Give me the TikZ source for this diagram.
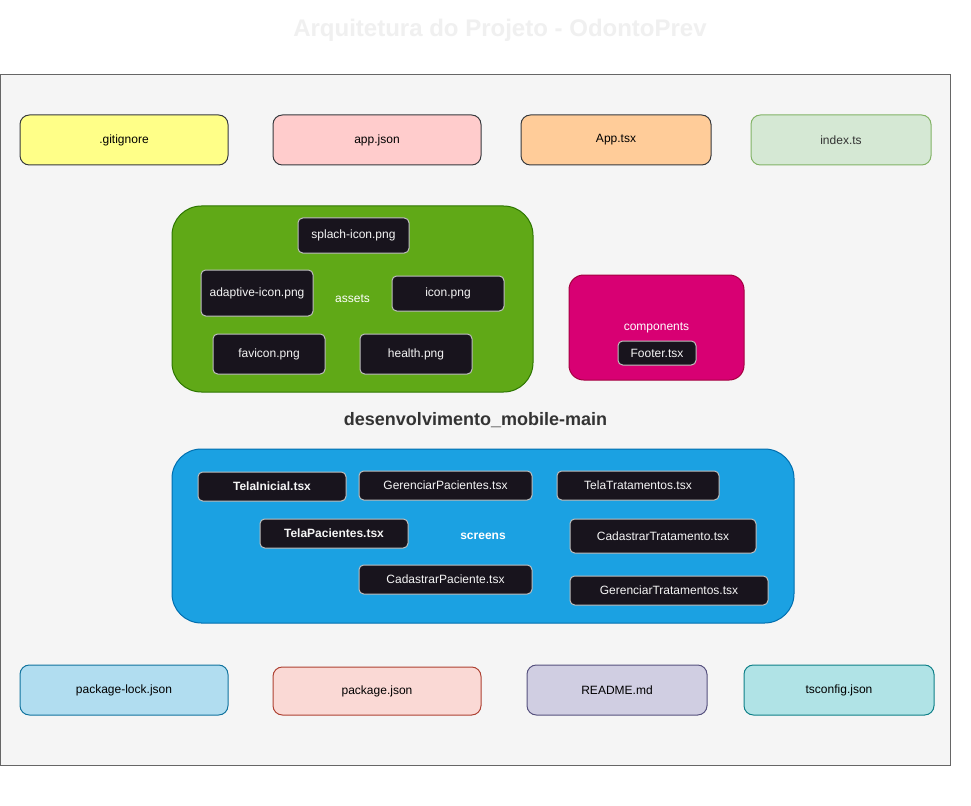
\documentclass[tikz,border=0pt]{standalone}
\usepackage{fontspec}
\setmainfont{Liberation Sans}
\begin{document}
\begin{tikzpicture}[x=0.75pt,y=-0.75pt,line width=0.75pt,
  every node/.style={inner sep=0pt,outer sep=0pt,align=center},
  filebox/.style={draw=c36,rounded corners=7pt,font=\fontsize{9pt}{11pt}\selectfont,text=black},
  darkbox/.style={draw=cbord,fill=cdark,rounded corners=3.5pt,font=\fontsize{9pt}{11pt}\selectfont,text=cwhite},
  group/.style={font=\fontsize{9pt}{11pt}\selectfont,text=white}]
\definecolor{c36}{HTML}{36393D}
\definecolor{cdark}{HTML}{18141D}
\definecolor{cbord}{HTML}{BFBFBF}
\definecolor{cwhite}{HTML}{F5F5F5}
\definecolor{cbg}{HTML}{F5F5F5}
\definecolor{cbgd}{HTML}{666666}
\definecolor{ctitle}{HTML}{F0F0F0}
\useasboundingbox (0,0) rectangle (971,806);
\fill[white] (0,0) rectangle (971,806);
% title
\node[font=\fontsize{18pt}{21pt}\selectfont\bfseries,text=ctitle] (title) at (500,30) {Arquitetura do Projeto - OdontoPrev};
% outer container
\node[draw=cbgd,fill=cbg,minimum width=950pt*0.75,minimum height=690pt*0.75,font=\fontsize{13.5pt}{16pt}\selectfont\bfseries,text={rgb,255:red,51;green,51;blue,51}] (main) at (475.5,420) {desenvolvimento\_mobile-main};
% top row
\node[filebox,fill={rgb,255:red,255;green,255;blue,136},minimum width=208pt*0.75,minimum height=50pt*0.75] (gitignore) at (124,140) {.gitignore};
\node[filebox,fill={rgb,255:red,255;green,204;blue,204},minimum width=208pt*0.75,minimum height=50pt*0.75] (appjson) at (377,140) {app.json};
\node[filebox,fill={rgb,255:red,255;green,204;blue,153},minimum width=190pt*0.75,minimum height=50pt*0.75] (apptsx) at (616,140) {App.tsx};
\node[filebox,draw={rgb,255:red,130;green,179;blue,102},fill={rgb,255:red,213;green,232;blue,212},text={rgb,255:red,51;green,51;blue,51},minimum width=180pt*0.75,minimum height=50pt*0.75] (indexts) at (841,140) {index.ts};
% bottom row
\node[filebox,draw={rgb,255:red,16;green,115;blue,158},fill={rgb,255:red,177;green,221;blue,240},minimum width=208pt*0.75,minimum height=50pt*0.75] (pkglock) at (124,690) {package-lock.json};
\node[filebox,draw={rgb,255:red,174;green,65;blue,50},fill={rgb,255:red,250;green,217;blue,213},minimum width=208pt*0.75,minimum height=48pt*0.75] (pkgjson) at (377,691) {package.json};
\node[filebox,draw={rgb,255:red,86;green,81;blue,126},fill={rgb,255:red,208;green,206;blue,226},minimum width=180pt*0.75,minimum height=50pt*0.75] (readme) at (617,690) {README.md};
\node[filebox,draw={rgb,255:red,14;green,128;blue,136},fill={rgb,255:red,176;green,227;blue,230},minimum width=190pt*0.75,minimum height=50pt*0.75] (tsconfig) at (839,690) {tsconfig.json};
% assets
\node[group,draw={rgb,255:red,45;green,118;blue,0},fill={rgb,255:red,96;green,169;blue,23},rounded corners=22pt,minimum width=361pt*0.75,minimum height=186pt*0.75] (assets) at (352.5,299) {assets};
\node[darkbox,minimum width=111pt*0.75,minimum height=35pt*0.75] (splach) at (353.5,235.5) {splach-icon.png};
\node[darkbox,minimum width=112pt*0.75,minimum height=46pt*0.75] (adaptive) at (257,293) {adaptive-icon.png};
\node[darkbox,minimum width=112pt*0.75,minimum height=35pt*0.75] (icon) at (448,293.5) {icon.png};
\node[darkbox,minimum width=112pt*0.75,minimum height=40pt*0.75] (favicon) at (269,354) {favicon.png};
\node[darkbox,minimum width=112pt*0.75,minimum height=40pt*0.75] (health) at (416,354) {health.png};
% components
\node[group,draw={rgb,255:red,165;green,0;blue,64},fill={rgb,255:red,216;green,0;blue,115},rounded corners=11pt,minimum width=175pt*0.75,minimum height=105pt*0.75] (components) at (656.5,327.5) {components};
\node[darkbox,minimum width=78pt*0.75,minimum height=24pt*0.75] (footer) at (657,353) {Footer.tsx};
% screens
\node[group,font=\fontsize{9pt}{11pt}\selectfont\bfseries,draw={rgb,255:red,0;green,110;blue,175},fill={rgb,255:red,27;green,161;blue,226},rounded corners=22pt,minimum width=622pt*0.75,minimum height=174pt*0.75] (screens) at (483,536) {screens};
\node[darkbox,font=\fontsize{9pt}{11pt}\selectfont\bfseries,minimum width=148pt*0.75,minimum height=29pt*0.75] (telainicial) at (272,486.5) {TelaInicial.tsx};
\node[darkbox,minimum width=173pt*0.75,minimum height=29pt*0.75] (gerpac) at (445.5,485.5) {GerenciarPacientes.tsx};
\node[darkbox,minimum width=162pt*0.75,minimum height=29pt*0.75] (telatrat) at (638,485.5) {TelaTratamentos.tsx};
\node[darkbox,font=\fontsize{9pt}{11pt}\selectfont\bfseries,minimum width=148pt*0.75,minimum height=29pt*0.75] (telapac) at (334,533.5) {TelaPacientes.tsx};
\node[darkbox,minimum width=186pt*0.75,minimum height=34pt*0.75] (cadtrat) at (663,536) {CadastrarTratamento.tsx};
\node[darkbox,minimum width=173pt*0.75,minimum height=29pt*0.75] (cadpac) at (445.5,579.5) {CadastrarPaciente.tsx};
\node[darkbox,minimum width=198pt*0.75,minimum height=29pt*0.75] (gertrat) at (669,590.5) {GerenciarTratamentos.tsx};
\end{tikzpicture}
\end{document}
